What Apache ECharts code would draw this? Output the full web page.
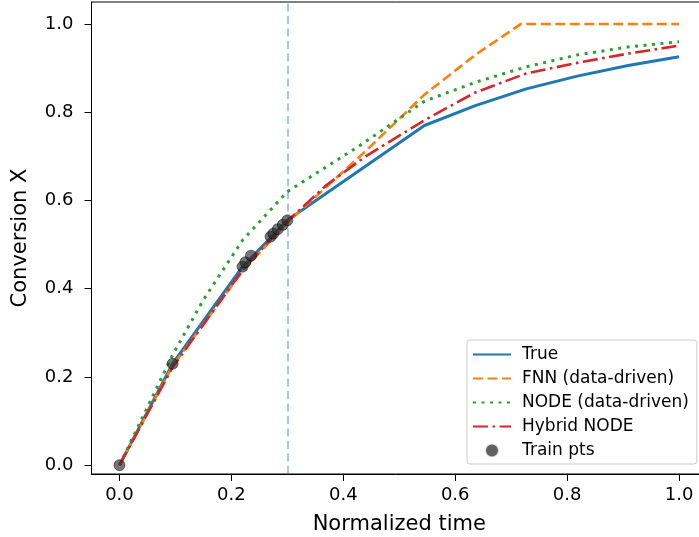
<!DOCTYPE html>
<html>
<head>
<meta charset="utf-8">
<script src="https://cdn.jsdelivr.net/npm/echarts@6/dist/echarts.min.js"></script>
<style>
  html, body { margin: 0; padding: 0; background: #fff; overflow: hidden; }
  #chart { width: 699px; height: 537px; }
</style>
</head>
<body>
<div id="chart"></div>
<script>
  // values
  const xTicks = [0, 0.2, 0.4, 0.6, 0.8, 1.0];
  const yTicks = [0, 0.2, 0.4, 0.6, 0.8, 1.0];
  const splitT = 0.3;

  const trueT = [0, 0.095, 0.22, 0.30, 0.545, 0.636, 0.727, 0.818, 0.909, 1.0];
  const trueX = [0, 0.23, 0.45, 0.555, 0.77, 0.815, 0.853, 0.882, 0.906, 0.926];

  const fnnT = [0, 0.095, 0.22, 0.30, 0.44, 0.545, 0.636, 0.717, 1.0];
  const fnnX = [0, 0.225, 0.44, 0.55, 0.712, 0.84, 0.93, 1.0, 1.0];

  const nodeT = [0, 0.095, 0.15, 0.22, 0.30, 0.43, 0.545, 0.636, 0.727, 0.818, 0.909, 1.0];
  const nodeX = [0, 0.25, 0.375, 0.51, 0.62, 0.725, 0.825, 0.868, 0.903, 0.93, 0.948, 0.96];

  const hybT = [0, 0.095, 0.22, 0.30, 0.37, 0.44, 0.545, 0.636, 0.727, 0.818, 0.909, 1.0];
  const hybX = [0, 0.222, 0.442, 0.553, 0.635, 0.70, 0.782, 0.845, 0.888, 0.912, 0.933, 0.951];

  const trainT = [0, 0.095, 0.22, 0.225, 0.235, 0.27, 0.275, 0.283, 0.292, 0.30];
  const trainX = [0, 0.23, 0.45, 0.46, 0.475, 0.518, 0.525, 0.535, 0.545, 0.555];

  const pairs = (t, x) => t.map((v, i) => [v, x[i]]);
  const font = 'DejaVu Sans';
  // legend: hide the circle ECharts puts on line icons
  const lineIcon = { itemStyle: { opacity: 0 } };

  const chart = echarts.init(document.getElementById('chart'));
  const option = {
    animation: false,
    textStyle: { fontFamily: font },
    grid: {
      left: 91.5, right: -8, top: 2, bottom: 63,
      show: true, borderColor: '#000', borderWidth: 1,
      outerBoundsMode: 'none'
    },
    xAxis: {
      type: 'value', min: -0.05, max: 1.05,
      name: 'Normalized time', nameLocation: 'middle', nameGap: 40,
      nameTextStyle: { fontSize: 21, color: '#000', fontFamily: font },
      axisLine: { show: true, onZero: false, lineStyle: { color: '#000', width: 1 } },
      axisTick: { show: true, length: 7, customValues: xTicks, lineStyle: { color: '#000' } },
      axisLabel: {
        customValues: xTicks, margin: 12, fontSize: 18, color: '#000', fontFamily: font,
        formatter: v => v.toFixed(1)
      },
      splitLine: { show: false }
    },
    yAxis: {
      type: 'value', min: -0.02, max: 1.05,
      name: 'Conversion X', nameLocation: 'middle', nameGap: 60,
      nameTextStyle: { fontSize: 21, color: '#000', fontFamily: font },
      axisLine: { show: true, onZero: false, lineStyle: { color: '#000', width: 1 } },
      axisTick: { show: true, length: 7, customValues: yTicks, lineStyle: { color: '#000' } },
      axisLabel: {
        customValues: yTicks, margin: 18, fontSize: 18, color: '#000', fontFamily: font,
        formatter: v => v.toFixed(1)
      },
      splitLine: { show: false }
    },
    legend: {
      orient: 'vertical', left: 467, top: 340,
      padding: [6, 8, 5, 5], itemGap: 7,
      itemWidth: 38, itemHeight: 14,
      backgroundColor: 'rgba(255,255,255,0.8)', borderColor: '#ccc', borderWidth: 1, borderRadius: 3,
      textStyle: { fontSize: 17, color: '#000', fontFamily: font, padding: [0, 0, 0, 6] },
      data: [
        Object.assign({ name: 'True' }, lineIcon),
        Object.assign({ name: 'FNN (data-driven)' }, lineIcon),
        Object.assign({ name: 'NODE (data-driven)' }, lineIcon),
        Object.assign({ name: 'Hybrid NODE' }, lineIcon),
        { name: 'Train pts', icon: 'circle',
          itemStyle: { color: '#3a3a3a', borderColor: '#fff', borderWidth: 2 } }
      ]
    },
    series: [
      {
        name: 'True', type: 'line', symbol: 'none', z: 3,
        data: pairs(trueT, trueX),
        lineStyle: { color: '#1f77b4', width: 3 }, itemStyle: { color: '#1f77b4' },
        markLine: {
          silent: true, symbol: 'none', label: { show: false },
          lineStyle: { color: 'rgba(31,119,180,0.4)', width: 2, type: [8, 4.5] },
          data: [{ xAxis: splitT }]
        }
      },
      {
        name: 'FNN (data-driven)', type: 'line', symbol: 'none', z: 4,
        data: pairs(fnnT, fnnX),
        lineStyle: { color: '#ff7f0e', width: 2.6, type: [10, 4.5] }, itemStyle: { color: '#ff7f0e' }
      },
      {
        name: 'NODE (data-driven)', type: 'line', symbol: 'none', z: 4,
        data: pairs(nodeT, nodeX),
        lineStyle: { color: '#2ca02c', width: 3, type: [3, 5.5] }, itemStyle: { color: '#2ca02c' }
      },
      {
        name: 'Hybrid NODE', type: 'line', symbol: 'none', z: 5,
        data: pairs(hybT, hybX),
        lineStyle: { color: '#d62728', width: 2.6, type: [15, 4.5, 2.6, 4.5] }, itemStyle: { color: '#d62728' }
      },
      {
        name: 'Train pts', type: 'scatter', symbol: 'circle', symbolSize: 11, z: 6,
        data: pairs(trainT, trainX),
        itemStyle: { color: 'rgba(40,40,40,0.8)', borderColor: 'rgba(0,0,0,0.6)', borderWidth: 1 }
      }
    ]
  };
  chart.setOption(option);
  window.addEventListener('resize', () => chart.resize());
</script>
</body>
</html>
